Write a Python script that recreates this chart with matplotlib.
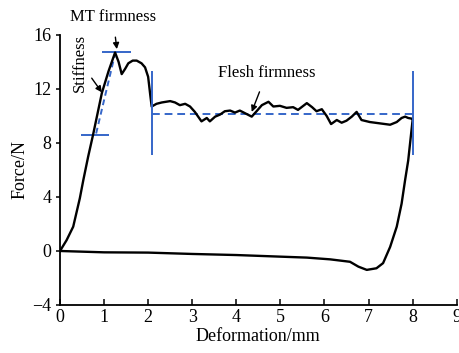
import matplotlib
matplotlib.use("Agg")
import matplotlib.pyplot as plt

plt.rcParams['font.family'] = ['Liberation Serif', 'DejaVu Serif']
plt.rcParams['mathtext.fontset'] = 'stix'

# loading curve (compression up to 8 mm)
load_x = [0, 0.15, 0.30, 0.45, 0.53, 0.64, 0.75, 0.95, 1.10, 1.25, 1.33, 1.40, 1.48, 1.55,
          1.65, 1.74, 1.85, 1.93, 2.00, 2.05, 2.08,
          2.19, 2.31, 2.50, 2.61, 2.72, 2.84, 2.95, 3.06, 3.21, 3.33, 3.40, 3.52, 3.63, 3.74,
          3.86, 3.97, 4.08, 4.20, 4.35, 4.46, 4.58, 4.73, 4.84, 4.99, 5.14, 5.29, 5.40, 5.60,
          5.72, 5.82, 5.94, 6.05, 6.15, 6.28, 6.39, 6.50, 6.62, 6.73, 6.84, 7.03, 7.26, 7.49,
          7.64, 7.75, 7.83, 7.90, 7.98, 8.00]
load_y = [0, 0.8, 1.8, 3.9, 5.26, 7.0, 8.6, 11.7, 13.3, 14.7, 14.0, 13.1, 13.5, 13.9,
          14.1, 14.1, 13.9, 13.6, 12.9, 11.5, 10.7,
          10.9, 11.0, 11.1, 11.0, 10.8, 10.9, 10.7, 10.3, 9.6, 9.85, 9.6, 9.95, 10.1, 10.35,
          10.4, 10.25, 10.4, 10.2, 9.95, 10.35, 10.8, 11.05, 10.7, 10.75, 10.6, 10.65, 10.45, 10.95,
          10.65, 10.35, 10.5, 10.0, 9.4, 9.7, 9.5, 9.65, 9.95, 10.3, 9.7, 9.55, 9.45, 9.35,
          9.55, 9.85, 9.95, 9.85, 9.8, 9.7]

# unloading curve (return)
unload_x = [8.00, 7.95, 7.90, 7.83, 7.75, 7.64, 7.49, 7.33, 7.18, 6.96, 6.77, 6.58, 6.13,
            5.60, 5.00, 4.00, 3.00, 2.00, 1.00, 0.0]
unload_y = [9.7, 8.2, 6.7, 5.26, 3.5, 1.8, 0.3, -0.9, -1.28, -1.4, -1.16, -0.8, -0.62,
            -0.49, -0.42, -0.3, -0.22, -0.12, -0.1, 0.0]

# guide lines
stiff_x = [0.82, 1.25]
stiff_y = [8.7, 14.6]
low_bar_x = [0.48, 1.12]; low_bar_y = 8.6
top_bar_x = [0.95, 1.60]; top_bar_y = 14.7
flesh_level = 10.15
flesh_x = [2.08, 8.0]
vline_x = [2.08, 8.0]
vline_y = [7.1, 13.3]

xticks = [0, 1, 2, 3, 4, 5, 6, 7, 8, 9]
yticks = [-4, 0, 4, 8, 12, 16]

blue = '#3566c9'

fig = plt.figure(figsize=(4.6, 3.53), dpi=100)
ax = fig.add_axes([0.1304, 0.136, 0.8624, 0.765])

ax.plot(load_x + unload_x, load_y + unload_y, color='black', lw=1.7,
        solid_joinstyle='round', zorder=3)

ax.plot(stiff_x, stiff_y, color=blue, lw=1.4, ls=(0, (3, 2)), zorder=2)
ax.hlines(low_bar_y, *low_bar_x, color=blue, lw=1.4)
ax.hlines(top_bar_y, *top_bar_x, color=blue, lw=1.4)
ax.plot(flesh_x, [flesh_level, flesh_level], color=blue, lw=1.4, ls=(0, (4, 2.5)), zorder=2)
for vx in vline_x:
    ax.vlines(vx, *vline_y, color=blue, lw=1.4, zorder=4)

ax.set_xlim(0, 9)
ax.set_ylim(-4, 16)
ax.set_xticks(xticks)
ax.set_yticks(yticks)
ax.set_yticklabels(['\u22124' if t < 0 else str(t) for t in yticks])
for s in ['top', 'right']:
    ax.spines[s].set_visible(False)
for s in ['left', 'bottom']:
    ax.spines[s].set_linewidth(1.3)
ax.tick_params(axis='x', direction='in', length=4, width=1.1, labelsize=13, pad=3)
ax.tick_params(axis='y', direction='out', length=3, width=1.1, labelsize=13, pad=3)
ax.set_xlabel('Deformation/mm', fontsize=13, labelpad=1)
ax.set_ylabel('Force/N', fontsize=13, labelpad=3)

arrow = dict(arrowstyle='-|>', color='black', lw=1.0, mutation_scale=9,
             shrinkA=0, shrinkB=0)
ax.annotate('MT firmness', xy=(1.29, 14.95), xytext=(1.2, 17.35),
            fontsize=12, ha='center', va='center', annotation_clip=False,
            arrowprops=dict(arrowstyle='-|>', color='black', lw=1.0, mutation_scale=9,
                            shrinkA=7, shrinkB=0))
ax.text(0.45, 13.9, 'Stiffness', rotation=90, fontsize=12, ha='center', va='center')
ax.annotate('', xy=(0.95, 11.75), xytext=(0.72, 12.8), arrowprops=arrow)
ax.annotate('Flesh firmness', xy=(4.35, 10.3), xytext=(4.69, 13.16),
            fontsize=12, ha='center', va='center',
            arrowprops=dict(arrowstyle='-|>', color='black', lw=1.0, mutation_scale=9,
                            shrinkA=6, shrinkB=0))

fig.savefig('out.png', dpi=100)
